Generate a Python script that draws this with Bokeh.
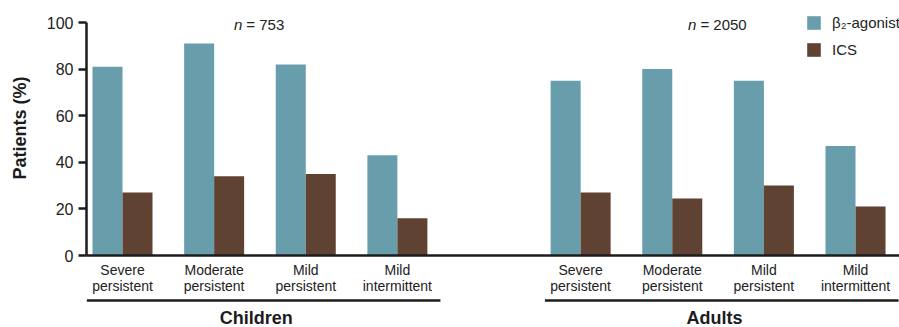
from bokeh.plotting import figure
from bokeh.layouts import column
from bokeh.models import (ColumnDataSource, Range1d, FixedTicker, Legend,
                          LegendItem, Label)
from bokeh.core.properties import value
from bokeh.embed import file_html
from bokeh.resources import INLINE

# ---------------- data ----------------
categories = ["Severe\npersistent", "Moderate\npersistent",
              "Mild\npersistent", "Mild\nintermittent"]
groups = ["Children", "Adults"]
group_n = ["753", "2050"]
children_beta2 = [81, 91, 82, 43]
children_ics = [27, 34, 35, 16]
adults_beta2 = [75, 80, 75, 47]
adults_ics = [27, 24.5, 30, 21]
series_names = ["β₂-agonist", "ICS"]
y_ticks = [0, 20, 40, 60, 80, 100]

# ---------------- layout / style ----------------
W, H = 899, 327
LEFT = 86
FRAME_W = W - LEFT
AXIS_BOTTOM = 255          # screen y of value 0
TOP100 = 22                # screen y of value 100
BELOW = 42                 # space for category tick labels
LOWER_H = H - AXIS_BOTTOM - BELOW
PX_Y = (AXIS_BOTTOM - TOP100) / 100.0
X_START, X_END = -0.393, 8.48
PX_X = FRAME_W / (X_END - X_START)
group_start = [0, 5]
BAR_W = 30 / PX_X
TEAL = "#689dab"
BROWN = "#5f4232"
INK = "#1c1c1c"
TXT = "#222222"
FONT = "Liberation Sans"

positions = [g + i for g in group_start for i in range(len(categories))]
beta2 = children_beta2 + adults_beta2
ics = children_ics + adults_ics

src_b = ColumnDataSource(dict(x=[p - BAR_W / 2 for p in positions], top=beta2))
src_i = ColumnDataSource(dict(x=[p + BAR_W / 2 for p in positions], top=ics))

xr = Range1d(X_START, X_END)
p = figure(frame_width=FRAME_W, frame_height=AXIS_BOTTOM, output_backend="svg",
           toolbar_location=None, x_range=xr,
           y_range=Range1d(0, AXIS_BOTTOM / PX_Y),
           min_border_left=LEFT, min_border_right=0, min_border_top=0,
           min_border_bottom=BELOW)
p.outline_line_color = None
p.xgrid.grid_line_color = None
p.ygrid.grid_line_color = None
p.background_fill_color = "white"
p.border_fill_color = "white"

rb = p.vbar(x="x", top="top", width=BAR_W, bottom=0, source=src_b,
            fill_color=TEAL, line_color=None)
ri = p.vbar(x="x", top="top", width=BAR_W, bottom=0, source=src_i,
            fill_color=BROWN, line_color=None)

# y axis
ya = p.yaxis[0]
ya.bounds = (0, 100)
ya.ticker = FixedTicker(ticks=y_ticks)
ya.axis_line_width = 2.5
ya.axis_line_color = INK
ya.major_tick_line_width = 2.5
ya.major_tick_line_color = INK
ya.major_tick_out = 8
ya.major_tick_in = 0
ya.minor_tick_line_color = None
ya.major_label_text_font = FONT
ya.major_label_text_font_size = "16px"
ya.major_label_text_color = TXT
ya.major_label_standoff = 5
ya.axis_label = "Patients (%)"
ya.axis_label_text_font = FONT
ya.axis_label_text_font_style = "bold"
ya.axis_label_text_font_size = "18px"
ya.axis_label_text_color = INK
ya.axis_label_standoff = 14

# x axis
xa = p.xaxis[0]
xa.ticker = FixedTicker(ticks=positions)
xa.major_label_overrides = {pos: categories[i % len(categories)]
                            for i, pos in enumerate(positions)}
xa.axis_line_width = 2.5
xa.axis_line_color = INK
xa.major_tick_line_color = None
xa.major_tick_out = 0
xa.major_tick_in = 0
xa.minor_tick_line_color = None
xa.minor_tick_out = 0
xa.major_label_text_font = FONT
xa.major_label_text_font_size = "14px"
xa.major_label_text_color = TXT
xa.major_label_text_line_height = 1.0
xa.major_label_standoff = 6

# n labels
for gi, g in enumerate(groups):
    s = group_start[gi]
    e = s + len(categories) - 1
    mid = (s + e) / 2 - 0.04
    shift = 4 * (len(group_n[gi]) - 3)
    p.add_layout(Label(x=mid, y=99, text="n", text_align="right",
                       text_baseline="middle", x_offset=-14 - shift,
                       text_font=FONT, text_font_style="italic",
                       text_font_size="15px", text_color=TXT))
    p.add_layout(Label(x=mid, y=99, text="= " + group_n[gi], text_align="left",
                       text_baseline="middle", x_offset=-10 - shift,
                       text_font=FONT, text_font_size="15px", text_color=TXT))

legend = Legend(items=[LegendItem(label=series_names[0], renderers=[rb]),
                       LegendItem(label=series_names[1], renderers=[ri])],
                location=(805 - LEFT, AXIS_BOTTOM - 58), orientation="vertical",
                padding=0, margin=0, spacing=10, glyph_width=17, glyph_height=17,
                label_height=17, label_standoff=10, border_line_color=None,
                background_fill_alpha=0, label_text_font=FONT,
                label_text_font_size="15px", label_text_color=TXT)
p.add_layout(legend, "center")

# ---------------- group labels strip ----------------
q = figure(frame_width=FRAME_W, frame_height=LOWER_H, output_backend="svg",
           toolbar_location=None, x_range=xr, y_range=Range1d(0, LOWER_H),
           x_axis_location=None, y_axis_location=None,
           min_border_left=LEFT, min_border_right=0, min_border_top=0,
           min_border_bottom=0)
q.outline_line_color = None
q.xgrid.grid_line_color = None
q.ygrid.grid_line_color = None

STRIP_TOP = AXIS_BOTTOM + BELOW
line_y = LOWER_H - (300 - STRIP_TOP)
text_y = LOWER_H - (317 - STRIP_TOP)
g_src = ColumnDataSource(dict(
    x0=[s - 0.39 for s in group_start],
    x1=[s + len(categories) - 1 + 0.47 for s in group_start],
    y=[line_y] * len(groups),
    mid=[s + (len(categories) - 1) / 2 - 0.04 for s in group_start],
    ty=[text_y] * len(groups),
    label=groups))
q.segment(x0="x0", x1="x1", y0="y", y1="y", source=g_src,
          line_width=2.5, line_color=INK)
q.text(x="mid", y="ty", text="label", source=g_src, text_align="center",
       text_baseline="middle", text_font=value(FONT), text_font_style="bold",
       text_font_size="18px", text_color=INK)

layout = column(p, q, spacing=0)
open("out.html", "w").write(file_html(layout, INLINE))
